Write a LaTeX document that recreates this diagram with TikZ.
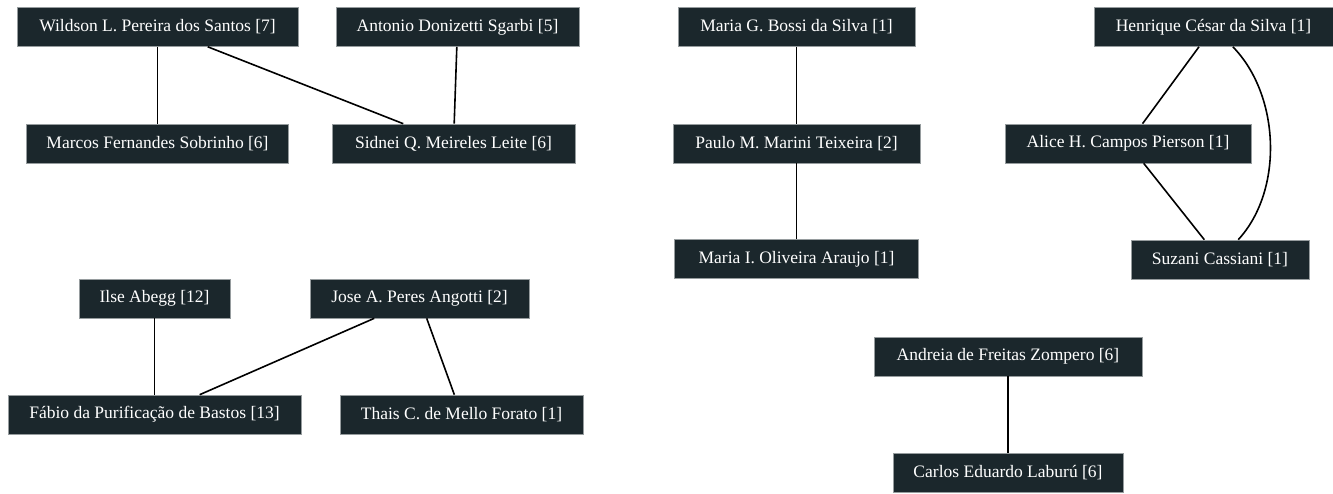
\documentclass[tikz,border=0pt]{standalone}
\usepackage{fontspec}
\setmainfont{Liberation Serif}
\definecolor{boxfill}{RGB}{27,39,44}
\definecolor{boxline}{RGB}{150,156,158}
\tikzset{
  person/.style={rectangle, fill=boxfill, draw=boxline, line width=0.6pt,
    text=white, inner sep=0pt, minimum height=39pt,
    font=\fontsize{17.5}{20}\selectfont},
  edge/.style={draw=black, line width=1.6pt}
}
\begin{document}
\begin{tikzpicture}[x=1pt,y=-1pt]
  \useasboundingbox (0,0) rectangle (1333,493);
  % authors with number of papers
  \foreach \n/\x/\y/\w/\t in {
      wil/157.5/27/281/Wildson L. Pereira dos Santos [7],
      ant/457.5/27/243/Antonio Donizetti Sgarbi [5],
      mar/157.5/143.5/262/Marcos Fernandes Sobrinho [6],
      sid/453.5/143.5/243/Sidnei Q. Meireles Leite [6],
      mgb/796.5/27/237/Maria G. Bossi da Silva [1],
      pau/796.5/143.5/247/Paulo M. Marini Teixeira [2],
      mio/796.5/259/244/Maria I. Oliveira Araujo [1],
      hen/1213.5/27/239/Henrique César da Silva [1],
      ali/1128/143.5/246/Alice H. Campos Pierson [1],
      suz/1220/259.5/178/Suzani Cassiani [1],
      ils/154.5/298.5/151/Ilse Abegg [12],
      jos/419.5/298.5/219/Jose A. Peres Angotti [2],
      fab/154.5/414.5/293/Fábio da Purificação de Bastos [13],
      tha/461.5/414.5/243/Thais C. de Mello Forato [1],
      and/1008/356.5/268/Andreia de Freitas Zompero [6],
      car/1008/472.5/230/Carlos Eduardo Laburú [6]}
    {\node[person, minimum width=\w pt] (\n) at (\x,\y) {\t};}
  % co-authorship links
  \foreach \a/\b in {wil/mar, wil/sid, ant/sid, mgb/pau, pau/mio,
      hen/ali, ali/suz, ils/fab, jos/fab, jos/tha, and/car}
    {\draw[edge] (\a) -- (\b);}
  \draw[edge] (hen) .. controls (1280,95) and (1284,190) .. (suz);
\end{tikzpicture}
\end{document}
